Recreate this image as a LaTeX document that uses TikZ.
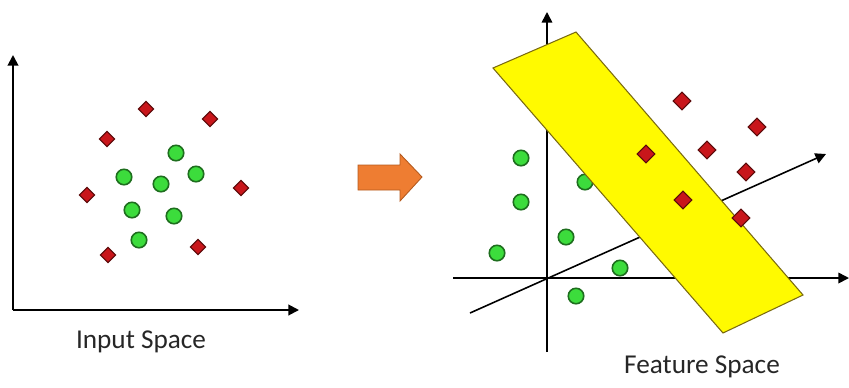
\documentclass[tikz,border=0pt]{standalone}
\usepackage{fontspec}
\setmainfont{Carlito}
\definecolor{SVMgreen}{HTML}{3CDC3C}
\definecolor{SVMgreenD}{HTML}{1E6E1E}
\definecolor{SVMred}{HTML}{C8161B}
\definecolor{SVMredD}{HTML}{5A0A0A}
\definecolor{SVMyellow}{HTML}{FFFA00}
\definecolor{SVMyellowD}{HTML}{7A6A10}
\definecolor{SVMorange}{HTML}{EE7D32}
\definecolor{SVMorangeD}{HTML}{B45A1E}
\usetikzlibrary{arrows.meta, shapes.geometric, positioning}
\tikzset{
  greendot/.style={circle, draw=SVMgreenD, fill=SVMgreen, line width=0.9pt,
    inner sep=0pt, minimum size=0.31cm},
  reddiamond/.style={diamond, draw=SVMredD, fill=SVMred, line width=0.6pt,
    inner sep=0pt, minimum size=0.31cm},
  bigdiamond/.style={reddiamond, minimum size=0.36cm},
  axisline/.style={-{Triangle[length=6pt, width=6pt]}, line width=1.1pt},
  spacelabel/.style={font=\fontsize{15.5}{18}\selectfont, text=black!85}
}
\begin{document}
\begin{tikzpicture}[x=0.02cm, y=-0.02cm]
            \useasboundingbox (0,0) rectangle (849,387);
            % Input space axes
            \coordinate (O1) at (13,310);
            \draw[axisline] (O1) -- (13,55);
            \draw[axisline] (O1) -- (299,310);
            \node[spacelabel] (input) at (141,342) {Input Space};
            % Input space: circles
            \node[greendot] (p1) at (176,153) {};
            \node[greendot] (p2) at (124,177) {};
            \node[greendot] (p3) at (161,184) {};
            \node[greendot] (p4) at (196,174) {};
            \node[greendot] (p5) at (132,210) {};
            \node[greendot] (p6) at (174,216) {};
            \node[greendot] (p7) at (139,240) {};
            % Input space: diamonds
            \node[reddiamond] (n1) at (146,109) {};
            \node[reddiamond] (n2) at (210,119) {};
            \node[reddiamond] (n3) at (107,139) {};
            \node[reddiamond] (n4) at (87,195) {};
            \node[reddiamond] (n5) at (241,188) {};
            \node[reddiamond] (n6) at (108,255) {};
            \node[reddiamond] (n7) at (198,247) {};
            % Mapping arrow
            \filldraw[fill=SVMorange, draw=SVMorangeD, line width=0.5pt]
               (358,165) -- (400,165) -- (400,154) -- (422,177)
               -- (400,201) -- (400,190) -- (358,190) -- cycle;
            % Feature space axes
            \coordinate (O2) at (547,278);
            \draw[axisline, line width=0.9pt] (547,352) -- (547,12);
            \draw[axisline, line width=0.9pt] (453,278) -- (849,278);
            \draw[axisline, line width=0.9pt] (470,313) -- (826,154);
            % Feature space: circles
            \node[greendot] (q1) at (521,158) {};
            \node[greendot] (q2) at (521,202) {};
            \node[greendot] (q3) at (566,237) {};
            \node[greendot] (q4) at (497,253) {};
            \node[greendot] (q5) at (620,268) {};
            \node[greendot] (q6) at (576,296) {};
            \node[greendot] (q7) at (585,182) {};
            % Separating slab
            \filldraw[fill=SVMyellow, draw=SVMyellowD, line width=0.6pt]
               (493,68) -- (576,32) -- (803,295) -- (723,333) -- cycle;
            % Feature space: diamonds
            \node[bigdiamond] (m1) at (682,101) {};
            \node[bigdiamond] (m2) at (757,127) {};
            \node[bigdiamond] (m3) at (646,154) {};
            \node[bigdiamond] (m4) at (707,150) {};
            \node[bigdiamond] (m5) at (746,172) {};
            \node[bigdiamond] (m6) at (683,200) {};
            \node[bigdiamond] (m7) at (741,218) {};
            \node[spacelabel] (feature) at (702,367) {Feature Space};
         \end{tikzpicture}
\end{document}
